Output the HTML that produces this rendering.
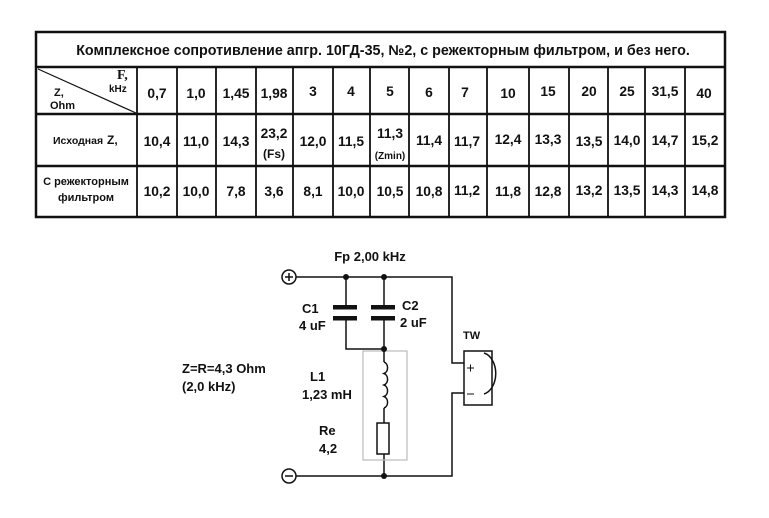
<!DOCTYPE html>
<html><head><meta charset="utf-8"><style>
html,body{margin:0;padding:0;background:#fff;width:769px;height:518px;overflow:hidden}
svg{display:block}
text{font-family:"Liberation Sans","DejaVu Sans",sans-serif;font-weight:bold;fill:#111}
</style></head><body>
<svg width="769" height="518" viewBox="0 0 769 518" xmlns="http://www.w3.org/2000/svg">
<g stroke="#111" stroke-width="2.5" fill="none">
<rect x="36" y="32" width="689" height="185"/>
<line x1="36" y1="67" x2="725" y2="67"/>
<line x1="36" y1="114" x2="725" y2="114"/>
<line x1="36" y1="166" x2="725" y2="166"/>
</g>
<g stroke="#111" stroke-width="1.8">
<line x1="137" y1="67" x2="137" y2="217"/><line x1="177" y1="67" x2="177" y2="217"/>
<line x1="216" y1="67" x2="216" y2="217"/><line x1="256" y1="67" x2="256" y2="217"/>
<line x1="293" y1="67" x2="293" y2="217"/><line x1="333" y1="67" x2="333" y2="217"/>
<line x1="370" y1="67" x2="370" y2="217"/><line x1="409" y1="67" x2="409" y2="217"/>
<line x1="449" y1="67" x2="449" y2="217"/><line x1="487" y1="67" x2="487" y2="217"/>
<line x1="529" y1="67" x2="529" y2="217"/><line x1="569" y1="67" x2="569" y2="217"/>
<line x1="608" y1="67" x2="608" y2="217"/><line x1="645" y1="67" x2="645" y2="217"/>
<line x1="685" y1="67" x2="685" y2="217"/>
<line x1="38" y1="69" x2="136" y2="113" stroke-width="1.2"/>
</g>
<text x="383" y="55" font-size="14.3" text-anchor="middle">Комплексное сопротивление апгр. 10ГД-35, №2, с режекторным фильтром, и без него.</text>
<text x="117" y="79" font-size="14" style="font-family:'Liberation Serif',serif">F,</text>
<text x="109" y="92" font-size="10">kHz</text>
<text x="54" y="96" font-size="11">Z,</text>
<text x="50" y="109" font-size="11">Ohm</text>
<g font-size="13.8" text-anchor="middle">
<text x="157" y="98">0,7</text><text x="196" y="98">1,0</text><text x="236" y="98">1,45</text><text x="274" y="98">1,98</text>
<text x="313" y="96">3</text><text x="351" y="96">4</text><text x="390" y="96">5</text><text x="429" y="97">6</text>
<text x="465" y="97">7</text><text x="508" y="98">10</text><text x="548" y="96">15</text><text x="589" y="96">20</text>
<text x="627" y="96">25</text><text x="665" y="96">31,5</text><text x="704" y="98">40</text>
<text x="157" y="146">10,4</text><text x="196" y="146">11,0</text><text x="236" y="146">14,3</text><text x="274" y="138">23,2</text>
<text x="274" y="158" font-size="12">(Fs)</text>
<text x="313" y="146">12,0</text><text x="351" y="146">11,5</text><text x="390" y="138">11,3</text>
<text x="390" y="159" font-size="10" font-weight="normal">(Zmin)</text>
<text x="429" y="145">11,4</text><text x="467" y="146">11,7</text><text x="508" y="144">12,4</text><text x="548" y="144">13,3</text>
<text x="589" y="146">13,5</text><text x="627" y="145">14,0</text><text x="665" y="145">14,7</text><text x="705" y="145">15,2</text>
<text x="157" y="196">10,2</text><text x="196" y="196">10,0</text><text x="236" y="196">7,8</text><text x="274" y="196">3,6</text>
<text x="313" y="196">8,1</text><text x="351" y="196">10,0</text><text x="390" y="196">10,5</text><text x="429" y="196">10,8</text>
<text x="467" y="195">11,2</text><text x="508" y="196">11,8</text><text x="548" y="196">12,8</text><text x="589" y="195">13,2</text>
<text x="627" y="195">13,5</text><text x="665" y="195">14,3</text><text x="705" y="195">14,8</text>
</g>
<text x="53" y="144" font-size="10.5">Исходная</text><text x="107" y="144" font-size="12">Z,</text>
<text x="86" y="185" font-size="11" text-anchor="middle">С режекторным</text>
<text x="86" y="201" font-size="11" text-anchor="middle">фильтром</text>

<g stroke="#111" stroke-width="1.5" fill="none">
<circle cx="289" cy="277" r="7"/><circle cx="289" cy="476" r="7"/>
<line x1="289" y1="273" x2="289" y2="281"/><line x1="285" y1="277" x2="293" y2="277"/>
<line x1="285" y1="476" x2="293" y2="476"/>
<polyline points="296,277 452,277 452,363 464,363"/>
<polyline points="296,476 452,476 452,393 464,393"/>
<rect x="464" y="351" width="28" height="54"/>
<path d="M484 353 A15 21 0 0 1 484 394"/>
<polyline points="346,277 346,307"/><polyline points="346,318 346,349 384,349"/>
<polyline points="384,277 384,307"/><polyline points="384,318 384,362"/>
<path d="M384 362 a5 6 0 0 1 0 11.5 a5 6 0 0 1 0 11.5 a5 6 0 0 1 0 11.5 a5 6 0 0 1 0 11.5"/>
<line x1="384" y1="408" x2="384" y2="423"/>
<rect x="377" y="423" width="12" height="31"/>
<line x1="384" y1="454" x2="384" y2="476"/>
<rect x="363" y="351" width="44" height="109" stroke="#bbb" stroke-width="1.2"/>
<line x1="467" y1="368" x2="474" y2="368" stroke-width="1"/><line x1="470.5" y1="364.5" x2="470.5" y2="371.5" stroke-width="1"/>
<line x1="467" y1="394" x2="474" y2="394" stroke-width="1"/>
</g>
<g fill="#111">
<rect x="333" y="305" width="24" height="4.5"/><rect x="333" y="316" width="24" height="4.5"/>
<rect x="371" y="305" width="24" height="4.5"/><rect x="371" y="316" width="24" height="4.5"/>
<circle cx="346" cy="277" r="3"/><circle cx="384" cy="277" r="3"/>
<circle cx="384" cy="349" r="3"/><circle cx="384" cy="476" r="3"/>
</g>
<text x="370" y="261" font-size="13" text-anchor="middle">Fp 2,00 kHz</text>
<text x="302" y="313" font-size="13">C1</text><text x="299" y="330" font-size="13">4 uF</text>
<text x="402" y="310" font-size="13">C2</text><text x="400" y="327" font-size="13">2 uF</text>
<text x="463" y="339" font-size="11" font-weight="normal">TW</text>
<text x="310" y="381" font-size="13">L1</text><text x="302" y="399" font-size="13">1,23 mH</text>
<text x="319" y="435" font-size="13">Re</text><text x="319" y="453" font-size="13">4,2</text>
<text x="182" y="373" font-size="13">Z=R=4,3 Ohm</text><text x="182" y="391" font-size="13">(2,0 kHz)</text>
</svg>
</body></html>
